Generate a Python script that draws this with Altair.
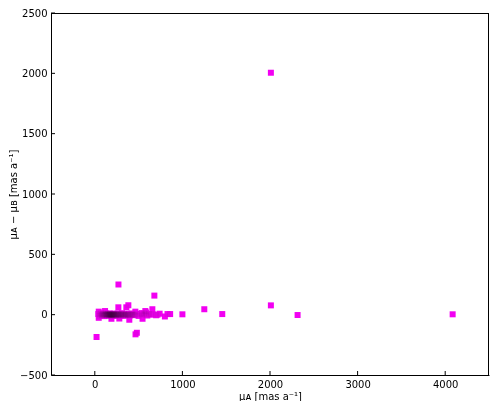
import altair as alt
import pandas as pd

# outlying / isolated points (mu_A, mu_A - mu_B)
out_x = [2010, 270, 680, 20, 480, 465, 1250, 1455, 2010, 2315, 4085, 1000, 860, 830,
         800, 715, 657, 536, 585, 545, 463, 394, 383, 360, 269, 280, 190, 45, 45, 117, 577]
out_y = [2005, 250, 158, -185, -150, -163, 45, 5, 77, -3, 3, 3, 5, 5,
         -15, 0, 45, 13, 18, -34, 25, -42, 78, 61, 61, -32, -34, 25, -26, 30, 30]

# dense cluster near zero difference
clu_x = [40, 55, 70, 85, 95, 110, 120, 130, 140, 150, 155, 160, 165, 170, 175, 180,
         185, 190, 195, 200, 205, 210, 215, 220, 225, 230, 240, 250, 260, 270, 280,
         290, 300, 310, 320, 335, 350, 365, 380, 400, 420, 440, 460, 480, 500, 520,
         540, 560, 580, 600, 620, 640, 660, 700, 740,
         150, 160, 170, 180, 190, 200, 210, 220, 230, 165, 175, 185, 195, 205, 215,
         125, 135, 245, 255, 265,
         60, 80, 100, 115, 130, 145, 240, 260, 280, 300, 320, 340, 360, 390, 420,
         90, 105, 135, 250, 275, 295, 315, 345, 375, 410, 450,
         330, 355, 385, 430]
clu_y = [5, -10, 12, -5, 8, -12, 3, 10, -6, 4, -3, 7, -8, 2, 9, -4,
         6, -9, 1, 5, -7, 3, 8, -2, 6, -11, 4, -6, 10, -3, 7,
         -8, 2, 12, -5, 4, -9, 8, 0, -6, 10, 3, -4, 7, -10, 5,
         -3, 9, 2, -7, 6, 0, 4, -5, 8,
         0, 3, -2, 1, -3, 2, 0, -1, 3, -4, 4, 0, -2, 2, -1,
         -3, 5, 1, -4, 2,
         2, -4, 6, -2, 1, 4, -3, 5, -1, 3, -6, 2, -2, 4, -3,
         -1, 3, -5, 0, 2, -4, 6, 1, -3, 2, -2,
         1, -2, 3, -1]

ticks_x = [0, 1000, 2000, 3000, 4000]
ticks_y = [-500, 0, 500, 1000, 1500, 2000, 2500]

W, H = 438, 362

pts = pd.DataFrame({"a": out_x + clu_x, "d": out_y + clu_y})
tx = pd.DataFrame({"v": ticks_x})
ty = pd.DataFrame({"v": ticks_y})
one = pd.DataFrame({"k": [0]})

xs = alt.Scale(domain=[-500, 4500], nice=False, zero=False)
ys = alt.Scale(domain=[-500, 2500], nice=False, zero=False)

xaxis = alt.Axis(values=ticks_x, format="d", ticks=False, domain=True, grid=False,
                 labelPadding=4, titlePadding=2, title="μᴀ [mas a⁻¹]")
yaxis = alt.Axis(values=ticks_y, format="d", ticks=False, domain=True, grid=False,
                 labelPadding=4, titlePadding=1, title="μᴀ − μʙ [mas a⁻¹]")

scatter = alt.Chart(pts).mark_point(
    shape="square", filled=True, size=36, fill="#f200f2", fillOpacity=1,
    strokeWidth=0, blend="multiply"
).encode(
    x=alt.X("a:Q", scale=xs, axis=xaxis),
    y=alt.Y("d:Q", scale=ys, axis=yaxis),
)

xt = alt.Chart(tx).mark_rule(color="black", strokeWidth=1).encode(
    x=alt.X("v:Q", scale=xs), y=alt.value(H), y2=alt.value(H - 4)
)
yt = alt.Chart(ty).mark_rule(color="black", strokeWidth=1).encode(
    y=alt.Y("v:Q", scale=ys), x=alt.value(0), x2=alt.value(4)
)
top_line = alt.Chart(one).mark_rule(color="black", strokeWidth=1).encode(
    x=alt.value(0), x2=alt.value(W), y=alt.value(0.5)
)
right_line = alt.Chart(one).mark_rule(color="black", strokeWidth=1).encode(
    x=alt.value(W - 0.5), y=alt.value(0), y2=alt.value(H)
)

chart = alt.layer(scatter, xt, yt, top_line, right_line).properties(
    width=W, height=H, padding={"left": 0, "top": 0, "right": 2, "bottom": 0}
).configure_view(
    stroke=None
).configure_axis(
    domainColor="black", domainWidth=1,
    labelFont="DejaVu Sans", labelFontSize=10, labelColor="black",
    titleFont="DejaVu Sans", titleFontSize=10, titleColor="black", titleFontWeight="normal"
)

chart.save("out.html", embed_options={"renderer": "svg", "actions": False})
